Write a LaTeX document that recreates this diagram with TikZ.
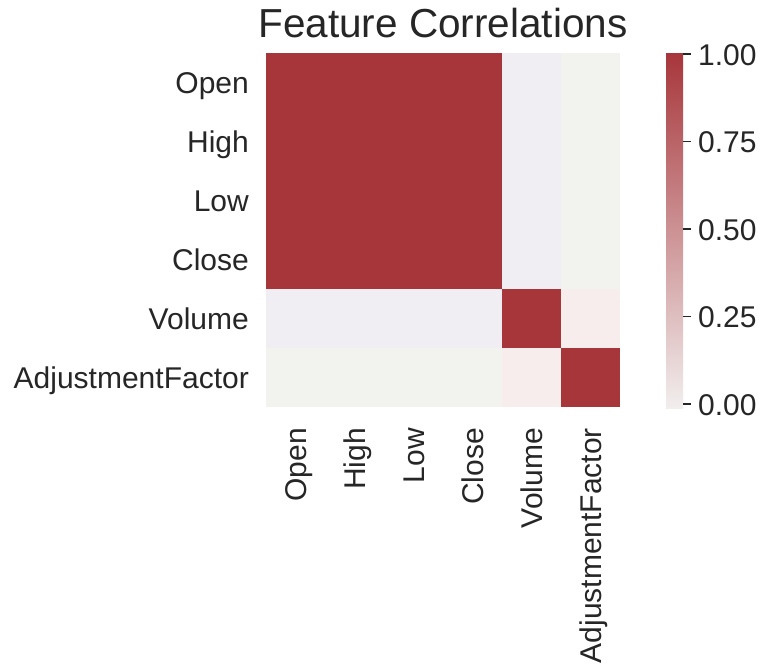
\documentclass[tikz,border=0pt]{standalone}
\usepackage{fontspec}
\setmainfont{Liberation Sans}
\definecolor{hmred}{HTML}{A7363B}
\definecolor{hmlav}{HTML}{F1EEF3}
\definecolor{hmgray}{HTML}{F2F2EE}
\definecolor{hmpink}{HTML}{F7EDED}
\definecolor{cbmid}{HTML}{D3A0A1}
\definecolor{cbbot}{HTML}{F2EEEE}
\definecolor{txt}{HTML}{262626}
\begin{document}
\begin{tikzpicture}[x=1pt,y=1pt,
  lbl/.style={font=\fontsize{30}{36}\selectfont, text=txt, inner sep=0pt, text height=22pt, text depth=0pt},
  ttl/.style={font=\fontsize{40.5}{46}\selectfont, text=txt, inner sep=0pt},
  tickmark/.style={draw=txt, line width=1.2pt}]
\useasboundingbox (0,0) rectangle (761,-667);
\fill[white] (0,0) rectangle (761,-667);
% title
\node[ttl, anchor=base] (title) at (443,-37) {Feature Correlations};
% heatmap cells
\fill[hmred]  (266,-53) rectangle (502,-289);
\fill[hmlav]  (266,-289) rectangle (502,-348);
\fill[hmlav]  (502,-53) rectangle (561,-289);
\fill[hmgray] (266,-348) rectangle (502,-407);
\fill[hmgray] (561,-53) rectangle (620,-289);
\fill[hmred]  (502,-289) rectangle (561,-348);
\fill[hmred]  (561,-348) rectangle (620,-407);
\fill[hmpink] (561,-289) rectangle (620,-348);
\fill[hmpink] (502,-348) rectangle (561,-407);
% row labels
\node[lbl, anchor=east] (rOpen)  at (249,-82.5)  {Open};
\node[lbl, anchor=east] (rHigh)  at (249,-141.5) {High};
\node[lbl, anchor=east] (rLow)   at (249,-200.5) {Low};
\node[lbl, anchor=east] (rClose) at (249,-259.5) {Close};
\node[lbl, anchor=east] (rVol)   at (249,-318.5) {Volume};
\node[lbl, anchor=east] (rAdj)   at (249,-377.5) {AdjustmentFactor};
% column labels
\node[lbl, rotate=90, anchor=east] (cOpen)  at (295.5,-428) {Open};
\node[lbl, rotate=90, anchor=east] (cHigh)  at (354.5,-428) {High};
\node[lbl, rotate=90, anchor=east] (cLow)   at (413.5,-428) {Low};
\node[lbl, rotate=90, anchor=east] (cClose) at (472.5,-428) {Close};
\node[lbl, rotate=90, anchor=east] (cVol)   at (531.5,-428) {Volume};
\node[lbl, rotate=90, anchor=east] (cAdj)   at (590.5,-428) {AdjustmentFactor};
% colorbar
\shade[top color=hmred, middle color=cbmid, bottom color=cbbot] (666,-53) rectangle (683,-408);
\foreach \yy/\tl [count=\i] in {54/1.00, 141.5/0.75, 229/0.50, 316.5/0.25, 404/0.00}{
  \coordinate (t\i a) at (683,-\yy);
  \coordinate (t\i b) at (691,-\yy);
  \draw[tickmark] (t\i a) -- (t\i b);
  \node[lbl, anchor=west] (tl\i) at (698,-\yy) {\tl};
}
\end{tikzpicture}
\end{document}
